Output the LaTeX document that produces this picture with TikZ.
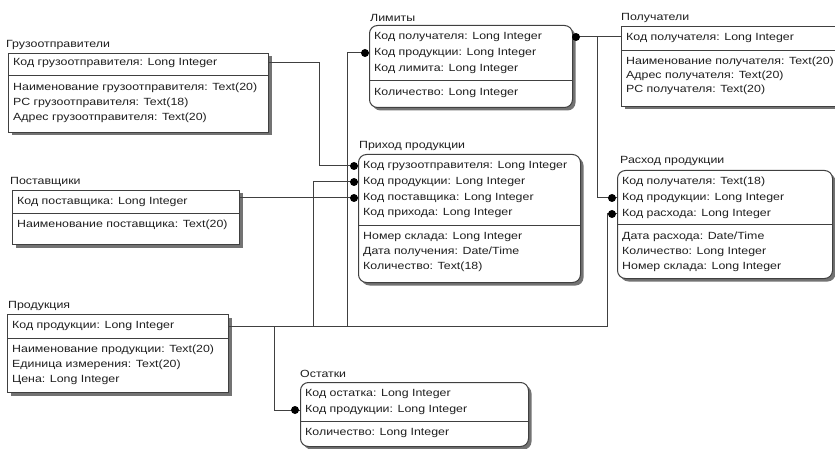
\documentclass[tikz,border=0pt]{standalone}
\usepackage{fontspec}
\setmainfont[FakeStretch=1.19]{Liberation Sans}
\usetikzlibrary{shadows}
\begin{document}
\begin{tikzpicture}[x=1pt,y=-1pt,
  ent/.style={draw=black!75, line width=1pt, fill=white, anchor=north west, inner sep=0pt,
    drop shadow={shadow xshift=3pt, shadow yshift=-3pt, fill=black!55, opacity=1}},
  dep/.style={ent, rounded corners=8pt},
  ttl/.style={anchor=south west, inner sep=0pt, font=\fontsize{10.4}{12}\selectfont, text=black!88},
  row/.style={anchor=west, inner sep=0pt, font=\fontsize{10.4}{12}\selectfont, text=black!88},
  sep/.style={draw=black!75, line width=0.9pt},
  link/.style={draw=black!75, line width=1pt},
  dot/.style={circle, fill=black, inner sep=0pt, minimum size=8pt}
]
\fill[white] (0,0) rectangle (835,449);
\useasboundingbox (0,0) rectangle (835,449);

% Грузоотправители
\node[ent, minimum width=260pt, minimum height=79pt] (gruz) at (8,53) {};
\node[ttl] (gruzt) at (6,50) {Грузоотправители};
\node[row] (gk) at (13,63) {Код грузоотправителя: Long Integer};
\draw[sep] (gruz.west |- 0,75) -- (gruz.east |- 0,75);
\node[row] (g1) at (13,88) {Наименование грузоотправителя: Text(20)};
\node[row] (g2) at (13,103) {РС грузоотправителя: Text(18)};
\node[row] (g3) at (13,118) {Адрес грузоотправителя: Text(20)};

% Лимиты
\node[dep, minimum width=203pt, minimum height=82pt] (lim) at (369,25) {};
\node[ttl] (limt) at (370,22) {Лимиты};
\node[row] (l1) at (374,37) {Код получателя: Long Integer};
\node[row] (l2) at (374,53) {Код продукции: Long Integer};
\node[row] (l3) at (374,69) {Код лимита: Long Integer};
\draw[sep] (lim.west |- 0,80) -- (lim.east |- 0,80);
\node[row] (l4) at (374,93) {Количество: Long Integer};

% Получатели
\node[ent, minimum width=230pt, minimum height=80pt] (pol) at (621,26) {};
\node[ttl] (polt) at (621,23) {Получатели};
\node[row] (pk1) at (626,38) {Код получателя: Long Integer};
\draw[sep] (pol.west |- 0,50) -- (pol.east |- 0,50);
\node[row] (pl1) at (626,62) {Наименование получателя: Text(20)};
\node[row] (pl2) at (626,76) {Адрес получателя: Text(20)};
\node[row] (pl3) at (626,90) {РС получателя: Text(20)};

% Поставщики
\node[ent, minimum width=227pt, minimum height=54pt] (post) at (12,190) {};
\node[ttl] (postt) at (10,187) {Поставщики};
\node[row] (sk) at (17,202) {Код поставщика: Long Integer};
\draw[sep] (post.west |- 0,213) -- (post.east |- 0,213);
\node[row] (s1) at (17,225) {Наименование поставщика: Text(20)};

% Приход продукции
\node[dep, minimum width=222pt, minimum height=128pt] (prih) at (358,154) {};
\node[ttl] (priht) at (359,151) {Приход продукции};
\node[row] (p1) at (363,166) {Код грузоотправителя: Long Integer};
\node[row] (p2) at (363,182) {Код продукции: Long Integer};
\node[row] (p3) at (363,198) {Код поставщика: Long Integer};
\node[row] (p4) at (363,213) {Код прихода: Long Integer};
\draw[sep] (prih.west |- 0,225) -- (prih.east |- 0,225);
\node[row] (p5) at (363,237) {Номер склада: Long Integer};
\node[row] (p6) at (363,252) {Дата получения: Date/Time};
\node[row] (p7) at (363,267) {Количество: Text(18)};

% Расход продукции
\node[dep, minimum width=215pt, minimum height=108pt] (rash) at (617,170) {};
\node[ttl] (rasht) at (620,166) {Расход продукции};
\node[row] (r1) at (622,182) {Код получателя: Text(18)};
\node[row] (r2) at (622,198) {Код продукции: Long Integer};
\node[row] (r3) at (622,214) {Код расхода: Long Integer};
\draw[sep] (rash.west |- 0,224) -- (rash.east |- 0,224);
\node[row] (r4) at (622,237) {Дата расхода: Date/Time};
\node[row] (r5) at (622,252) {Количество: Long Integer};
\node[row] (r6) at (622,267) {Номер склада: Long Integer};

% Продукция
\node[ent, minimum width=221pt, minimum height=78pt] (prod) at (7,314) {};
\node[ttl] (prodt) at (8,311) {Продукция};
\node[row] (dk) at (12,326) {Код продукции: Long Integer};
\draw[sep] (prod.west |- 0,338) -- (prod.east |- 0,338);
\node[row] (d1) at (12,350) {Наименование продукции: Text(20)};
\node[row] (d2) at (12,365) {Единица измерения: Text(20)};
\node[row] (d3) at (12,380) {Цена: Long Integer};

% Остатки
\node[dep, minimum width=228pt, minimum height=64pt] (ost) at (300,382) {};
\node[ttl] (ostt) at (300,378) {Остатки};
\node[row] (o1) at (305,394) {Код остатка: Long Integer};
\node[row] (o2) at (305,410) {Код продукции: Long Integer};
\draw[sep] (ost.west |- 0,421) -- (ost.east |- 0,421);
\node[row] (o3) at (305,433) {Количество: Long Integer};

% connectors
\draw[link] (gk -| gruz.east) -- ++(50,0) |- (p1 -| prih.west);
\draw[link] (p3 -| post.east) -- (p3 -| prih.west);
\draw[link] (dk -| prod.east) -- ++(84,0) |- (p2 -| prih.west);
\draw[link] (dk -| prod.east) -- ++(118,0) |- (l2 -| lim.west);
\draw[link] (dk -| prod.east) -- ++(378,0) |- (r3 -| rash.west);
\draw[link] (dk -| prod.east) -- ++(45,0) |- (o2 -| ost.west);
\draw[link] (l1 -| lim.east) -- (l1 -| pol.west);
\draw[link] (l1 -| pol.west) -- ++(-24,0) |- (r2 -| rash.west);

% dots
\node[dot, xshift=-4pt] (dp1) at (p1 -| prih.west) {};
\node[dot, xshift=-4pt] (dp2) at (p2 -| prih.west) {};
\node[dot, xshift=-4pt] (dp3) at (p3 -| prih.west) {};
\node[dot, xshift=-4pt] (dl2) at (l2 -| lim.west) {};
\node[dot, xshift=3pt] (dl1) at (l1 -| lim.east) {};
\node[dot, xshift=-5pt] (dr2) at (r2 -| rash.west) {};
\node[dot, xshift=-5pt] (dr3) at (r3 -| rash.west) {};
\node[dot, xshift=-5pt] (do2) at (o2 -| ost.west) {};
\end{tikzpicture}
\end{document}
